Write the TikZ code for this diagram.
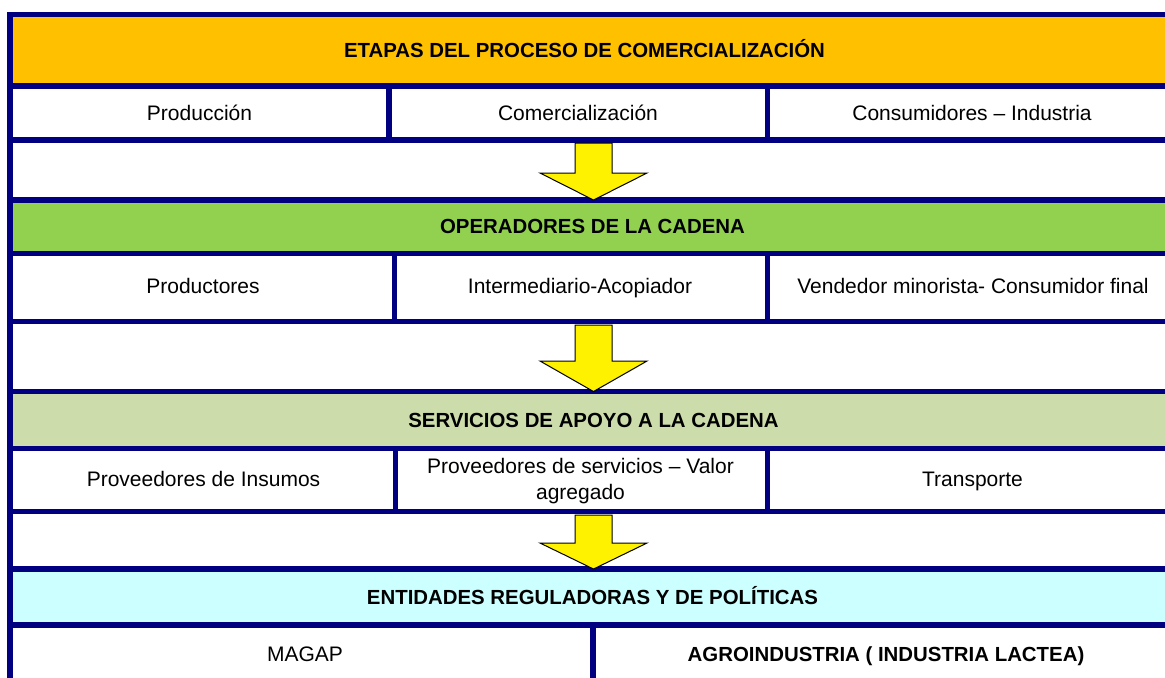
\documentclass[tikz,border=0pt]{standalone}
\usepackage{fontspec}
\setmainfont{Liberation Sans}
\usetikzlibrary{positioning}
\definecolor{marino}{RGB}{0,0,128}
\definecolor{naranja}{RGB}{255,192,0}
\definecolor{verde}{RGB}{146,208,80}
\definecolor{oliva}{RGB}{204,220,170}
\definecolor{celeste}{RGB}{204,255,255}

\begin{document}
\begin{tikzpicture}[
    x=0.5pt, y=-0.5pt,
    every node/.style={font=\fontsize{10.5}{13}\selectfont, text height=7.7pt, text depth=2.2pt},
    titulo/.style={font=\fontsize{10.2}{12}\selectfont\bfseries},
    borde/.style={draw=marino, line width=2.75pt},
    flecha/.style={fill=yellow, draw=black, line width=0.5pt}
]
    \useasboundingbox (0,0) rectangle (1165,677);
    \clip (0,0) rectangle (1165,677);
    \fill[white] (0,0) rectangle (1165,677);
    \fill[naranja] (10,14.5) rectangle (1180,86);
    \fill[verde] (10,200) rectangle (1180,253.5);
    \fill[oliva] (10,391.5) rectangle (1180,448.5);
    \fill[celeste] (10,569) rectangle (1180,625);

    \foreach \y in {14.5,86,140,200,253.5,321.5,391.5,448.5,511.5,569,625}
        \draw[borde] (7.5,\y) -- (1180,\y);
    \draw[borde] (10,12) -- (10,690);
    \draw[borde] (389,86) -- (389,140);
    \draw[borde] (767.5,86) -- (767.5,140);
    \draw[borde] (394.5,253.5) -- (394.5,321.5);
    \draw[borde] (767.5,253.5) -- (767.5,321.5);
    \draw[borde] (395.5,448.5) -- (395.5,511.5);
    \draw[borde] (767.5,448.5) -- (767.5,511.5);
    \draw[borde] (593,625) -- (593,690);

    \node[titulo] (etapas) at (584.5,52) {ETAPAS DEL PROCESO DE COMERCIALIZACIÓN};
    \node (produccion) at (199.5,114.5) {Producción};
    \node (comercializacion) at (578,114.5) {Comercialización};
    \node (consumidores) at (972,114.5) {Consumidores – Industria};

    \node[titulo] (operadores) at (592.5,228) {OPERADORES DE LA CADENA};
    \node (productores) at (203,288) {Productores};
    \node (intermediario) at (580,288) {Intermediario-Acopiador};
    \node (vendedor) at (973,288) {Vendedor minorista- Consumidor final};

    \node[titulo] (servicios) at (593.5,422) {SERVICIOS DE APOYO A LA CADENA};
    \node (insumos) at (203.5,481) {Proveedores de Insumos};
    \node[align=center, text height=, text depth=] (valor) at (580.5,481.5) {Proveedores de servicios – Valor\\agregado};
    \node (transporte) at (972.5,481) {Transporte};

    \node[titulo] (entidades) at (592.5,599) {ENTIDADES REGULADORAS Y DE POLÍTICAS};
    \node (magap) at (305,655.5) {MAGAP};
    \node[titulo] (agroindustria) at (886,655.5) {AGROINDUSTRIA ( INDUSTRIA LACTEA)};

    \foreach \t/\h/\b in {143/173/200, 325/361/391.5, 515/543/569}
        \draw[flecha] (575,\t) -- (612,\t) -- (612,\h) -- (647,\h) -- (593.5,\b)
            -- (540,\h) -- (575,\h) -- cycle;
\end{tikzpicture}
\end{document}
